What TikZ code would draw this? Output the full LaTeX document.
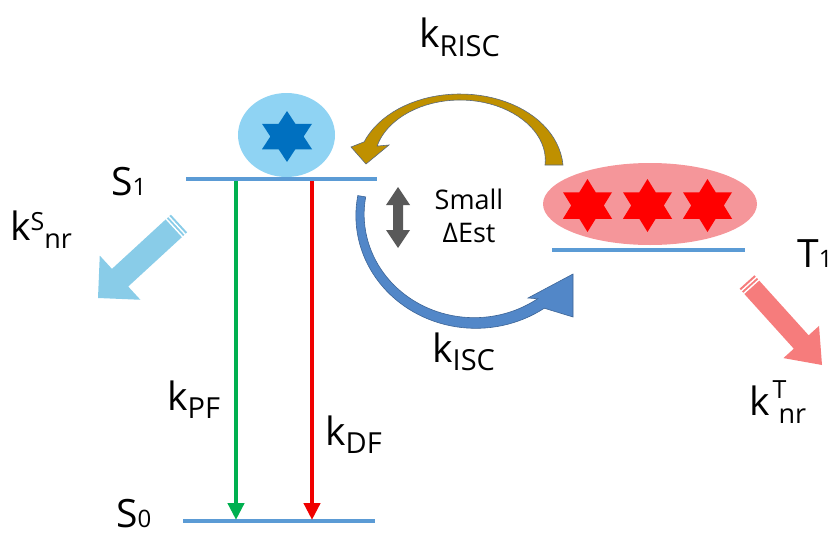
\documentclass[tikz,border=0pt]{standalone}
\usepackage{fontspec}
\setmainfont{Open Sans}
\usetikzlibrary{arrows.meta,calc,shapes.geometric}
\definecolor{levelblue}{RGB}{91,155,213}
\definecolor{pfgreen}{RGB}{0,176,80}
\definecolor{dfred}{RGB}{240,0,0}
\definecolor{singfill}{RGB}{143,211,243}
\definecolor{singstar}{RGB}{0,112,192}
\definecolor{tripfill}{RGB}{245,150,154}
\definecolor{tripstar}{RGB}{255,0,0}
\definecolor{gold}{RGB}{191,144,0}
\definecolor{goldedge}{RGB}{90,105,125}
\definecolor{iscblue}{RGB}{82,135,200}
\definecolor{iscedge}{RGB}{60,100,150}
\definecolor{skyarrow}{RGB}{137,204,232}
\definecolor{salmonarrow}{RGB}{246,124,124}
\definecolor{gapgray}{RGB}{89,89,89}
% six-pointed star: cx, cy, half-width, half-height, colour
\newcommand\hexstar[5]{%
  \fill[#5] ({#1},{#2-#4}) -- ({#1-#3},{#2+#4/2}) -- ({#1+#3},{#2+#4/2}) -- cycle
            ({#1},{#2+#4}) -- ({#1+#3},{#2-#4/2}) -- ({#1-#3},{#2-#4/2}) -- cycle;}
% striped block arrow: tail, tip, shaft half, head half, head length, colour
\newcommand\blockarr[6]{%
  \coordinate (ba-h) at ($(#2)!#5!(#1)$);
  \fill[#6] ($(#1)!#3!90:(#2)$) -- ($(ba-h)!#3!90:(#2)$) -- ($(ba-h)!#4!90:(#2)$) -- (#2)
    -- ($(ba-h)!#4!-90:(#2)$) -- ($(ba-h)!#3!-90:(#2)$) -- ($(#1)!#3!-90:(#2)$) -- cycle;
  \coordinate (ba-s1) at ($(#1)!2.8pt!(#2)$);
  \coordinate (ba-s2) at ($(#1)!6.3pt!(#2)$);
  \draw[white,line width=1.4pt] ($(ba-s1)!14pt!90:(#2)$) -- ($(ba-s1)!14pt!-90:(#2)$);
  \draw[white,line width=1.4pt] ($(ba-s2)!14pt!90:(#2)$) -- ($(ba-s2)!14pt!-90:(#2)$);}
\newcommand\lowsub[1]{\raisebox{-8pt}{\fontsize{29}{30}\selectfont #1}}
\newcommand\stdigit[1]{{\fontsize{24}{24}\selectfont #1}}
\begin{document}
\begin{tikzpicture}[x=1pt,y=-1pt,
  level/.style={levelblue,line width=4.5pt},
  decay/.style={line width=4.5pt,-{Triangle[length=17pt,width=16pt]}},
  lbl/.style={anchor=base west,inner sep=0pt,font=\fontsize{39}{44}\selectfont},
  declare function={wr(\t)=3+6*(1-\t/90)*(1-\t/90); wi(\t)=4+1.8*(190-\t)/135;}
]
\useasboundingbox (0,0) rectangle (837,535);

% state ellipses
\node[ellipse,fill=singfill,minimum width=97pt,minimum height=84pt,inner sep=0pt] (sing) at (286.5,135) {};
\node[ellipse,fill=tripfill,minimum width=214pt,minimum height=82pt,inner sep=0pt] (trip) at (650,204) {};

% levels
\coordinate (s1a) at (186,179); \coordinate (s1b) at (377,179);
\coordinate (s0a) at (183,521); \coordinate (s0b) at (375,521);
\coordinate (t1a) at (552,250); \coordinate (t1b) at (745,250);
\draw[level] (s1a) -- (s1b);
\draw[level] (s0a) -- (s0b);
\draw[level] (t1a) -- (t1b);

% stars
\hexstar{287}{136.5}{25}{25.5}{singstar}
\hexstar{587.5}{205.5}{24.5}{26.5}{tripstar}
\hexstar{647.5}{205.5}{24.5}{26.5}{tripstar}
\hexstar{707.5}{205.5}{24.5}{26.5}{tripstar}

% radiative decays
\coordinate (pfs) at (236,181); \coordinate (pfe) at (236,520);
\coordinate (dfs) at (312,181); \coordinate (dfe) at (312,520);
\draw[decay,pfgreen] (pfs) -- (pfe);
\draw[decay,dfred] (dfs) -- (dfe);

% non-radiative block arrows
\coordinate (snrtail) at (179,223.5); \coordinate (snrtip) at (98,298);
\blockarr{snrtail}{snrtip}{12pt}{30pt}{30pt}{skyarrow}
\coordinate (tnrtail) at (747,282); \coordinate (tnrtip) at (822,365);
\blockarr{tnrtail}{tnrtip}{10pt}{24pt}{31pt}{salmonarrow}

% RISC curved arrow
\filldraw[fill=gold,draw=goldedge,line width=0.6pt]
  plot[domain=0:162,samples=40,variable=\a] ({460+(94+wr(\a))*cos(\a)},{165-(68+wr(\a))*sin(\a)})
  -- (351,147) -- (366,164) -- (389,145)
  -- plot[domain=162:0,samples=40,variable=\a] ({460+(94-wr(\a))*cos(\a)},{165-(68-wr(\a))*sin(\a)})
  -- cycle;

% ISC curved arrow
\filldraw[fill=iscblue,draw=iscedge,line width=0.6pt]
  plot[domain=190:55,samples=50,variable=\a] ({475+(115+wi(\a))*cos(\a)},{215+(108+wi(\a))*sin(\a)})
  -- (573,317) -- (573,274) -- (528,298)
  -- plot[domain=55:190,samples=50,variable=\a] ({475+(115-wi(\a))*cos(\a)},{215+(108-wi(\a))*sin(\a)})
  -- cycle;

% energy gap double arrow
\fill[gapgray] (398,187) -- (410,205) -- (403,205) -- (403,230) -- (410,230) -- (398,248)
  -- (386,230) -- (393,230) -- (393,205) -- (386,205) -- cycle;
\node[align=center,inner sep=0pt,font=\fontsize{27}{33}\selectfont] (gap) at (469,216) {Small\\ΔEst};

% labels
\node[lbl] (s1lbl) at (111,195) {S\stdigit{1}};
\node[lbl] (s0lbl) at (116,527) {S\stdigit{0}};
\node[lbl] (t1lbl) at (797,267) {T\stdigit{1}};
\node[lbl] (krisc) at (419,48) {k\raisebox{-9pt}{\fontsize{29}{30}\selectfont RISC}};
\node[lbl] (kisc) at (432,362) {k\lowsub{ISC}};
\node[lbl] (kpf) at (167,410) {k\lowsub{PF}};
\node[lbl] (kdf) at (325,445) {k\lowsub{DF}};
\node[lbl] (ksnr) at (10,240) {k\raisebox{10pt}{\fontsize{25}{26}\selectfont S}\raisebox{-8pt}{\fontsize{27}{28}\selectfont nr}};
\node[lbl] (ktnr) at (749,415) {k\hspace{3pt}\raisebox{17pt}{\fontsize{25}{26}\selectfont T}\hspace{-8pt}\raisebox{-8pt}{\fontsize{27}{28}\selectfont nr}};
\end{tikzpicture}
\end{document}
